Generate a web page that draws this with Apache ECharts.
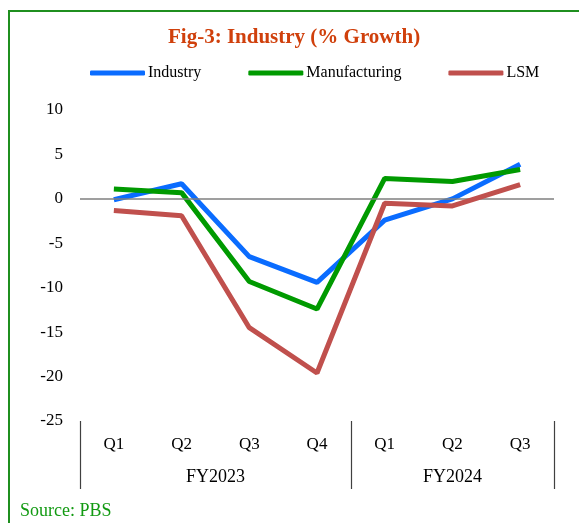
<!DOCTYPE html>
<html>
<head>
<meta charset="utf-8">
<script src="https://cdn.jsdelivr.net/npm/echarts@6/dist/echarts.min.js"></script>
<style>
  body { margin: 0; background: #fff; }
  #chart { position: absolute; left: 0; top: 0; width: 579px; height: 523px; }
  #frame { position: absolute; left: 8px; top: 10px; width: 620px; height: 560px;
           border: 2px solid #1f8f1f; pointer-events: none; }
</style>
</head>
<body>
<div id="chart"></div>
<div id="frame"></div>
<script>
// 季度标签和财年分组
var quarters = ['Q1', 'Q2', 'Q3', 'Q4', 'Q1', 'Q2', 'Q3'];
var groups = ['FY2023', 'FY2024'];
var groupSizes = [4, 3];

// 各系列增长率 (%)
var industry = [-0.1, 1.7, -6.5, -9.4, -2.4, 0.0, 3.9];
var manufacturing = [1.1, 0.7, -9.3, -12.4, 2.3, 1.95, 3.3];
var lsm = [-1.3, -1.9, -14.5, -19.6, -0.5, -0.8, 1.6];

var yTicks = { min: -25, max: 10, interval: 5 };

var serif = '"Liberation Serif", "Times New Roman", serif';

// 分组边界和分组标签位置
var bounds = [0];
var centers = [];
groupSizes.forEach(function (n, i) {
    centers.push(bounds[i] + n / 2);
    bounds.push(bounds[i] + n);
});

var chart = echarts.init(document.getElementById('chart'));

var lineSeries = function (name, data, color) {
    return {
        name: name,
        type: 'line',
        xAxisIndex: 0,
        data: data,
        symbol: 'none',
        lineStyle: { color: color, width: 5 },
        itemStyle: { color: color }
    };
};

var series = [
    lineSeries('Industry', industry, '#0a6cff'),
    lineSeries('Manufacturing', manufacturing, '#009a00'),
    lineSeries('LSM', lsm, '#c0504d')
];
series[0].markLine = {
    silent: true,
    symbol: 'none',
    label: { show: false },
    lineStyle: { color: '#7f7f7f', width: 1.5, type: 'solid' },
    data: [{ yAxis: 0 }]
};
series.forEach(function (s, i) { s.z = 3 + i; });

chart.setOption({
    animation: false,
    title: [
        {
            text: 'Fig-3: Industry (% Growth)',
            left: 163,
            top: 22,
            textStyle: { fontFamily: serif, fontSize: 21, fontWeight: 'bold', color: '#d0400c' }
        },
        {
            text: 'Source: PBS',
            left: 15,
            top: 497,
            textStyle: { fontFamily: serif, fontSize: 18, fontWeight: 'normal', color: '#129a12' }
        }
    ],
    legend: {
        left: 85,
        top: 60,
        itemWidth: 55,
        itemHeight: 5,
        itemGap: 47,
        icon: 'roundRect',
        textStyle: { fontFamily: serif, fontSize: 16, color: '#000', padding: [0, 0, 0, -2] },
        data: ['Industry', 'Manufacturing', 'LSM']
    },
    grid: { left: 80, right: 25, top: 110, bottom: 102 },
    xAxis: [
        {
            type: 'category',
            data: quarters,
            axisLine: { show: false },
            axisTick: { show: false },
            axisLabel: { margin: 15, fontFamily: serif, fontSize: 17, color: '#000' }
        },
        {
            type: 'value',
            position: 'bottom',
            min: 0,
            max: bounds[bounds.length - 1],
            axisLine: { show: false },
            splitLine: { show: false },
            axisTick: {
                show: true,
                customValues: bounds,
                length: 68,
                lineStyle: { color: '#404040', width: 1.2 }
            },
            axisLabel: {
                customValues: centers,
                margin: 47,
                fontFamily: serif,
                fontSize: 18,
                color: '#000',
                formatter: function (v) {
                    return groups[centers.indexOf(v)];
                }
            }
        }
    ],
    yAxis: {
        type: 'value',
        min: yTicks.min,
        max: yTicks.max,
        interval: yTicks.interval,
        axisLine: { show: false },
        axisTick: { show: false },
        splitLine: { show: false },
        axisLabel: { margin: 17, fontFamily: serif, fontSize: 17, color: '#000' }
    },
    series: series
});
</script>
</body>
</html>
